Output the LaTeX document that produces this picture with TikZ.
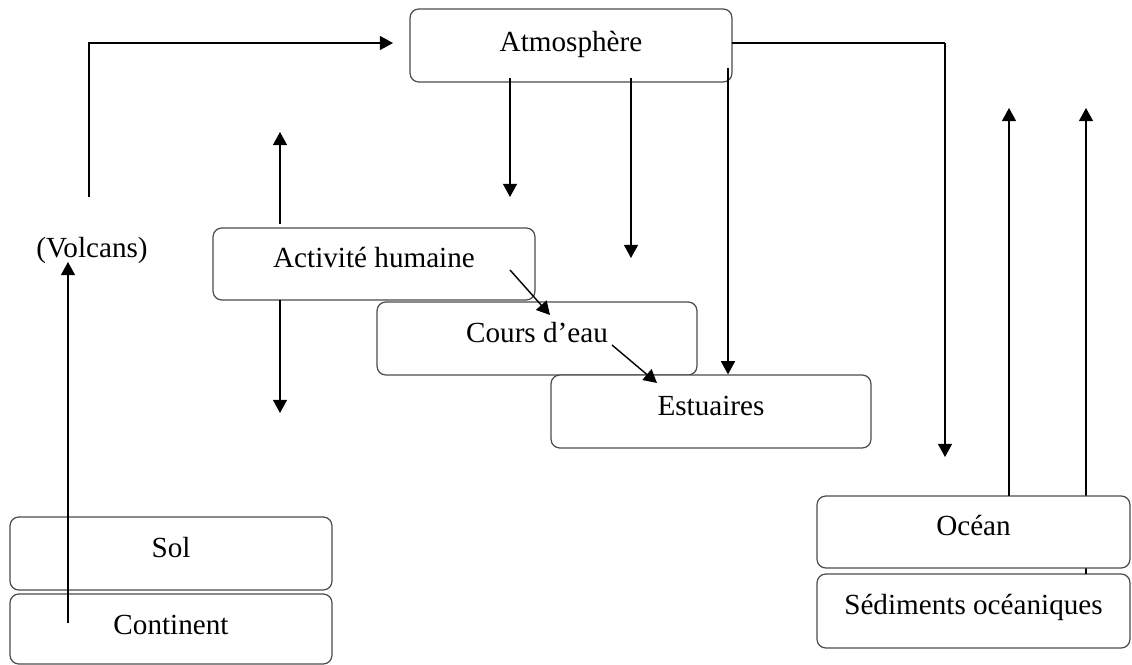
\documentclass[tikz,border=0pt]{standalone}
\usepackage{fontspec}
\setmainfont{Liberation Serif}
\usetikzlibrary{arrows.meta, calc}

\begin{document}
\begin{tikzpicture}[x=0.02cm, y=-0.02cm, font=\fontsize{16.6}{20}\selectfont,
  box/.style={draw=black!70, line width=0.7pt, rounded corners=5pt, fill=white, inner sep=0pt, minimum height=1.46cm, text height=12pt, text depth=8pt},
  arr/.style={-{Triangle[length=7.5pt,width=8pt]}, line width=0.8pt}]

\useasboundingbox (0,0) rectangle (1132,665);

\node[box, minimum width=6.44cm, text depth=5pt] (atmo) at (571,45.5) {Atmosphère};
\node[box, minimum width=6.44cm, minimum height=1.44cm] (act) at (374,264) {Activité humaine};
\node[box, minimum width=6.4cm] (cours) at (537,338.5) {Cours d’eau};
\node[box, minimum width=6.4cm] (estu) at (711,411.5) {Estuaires};
\node[box, minimum width=6.44cm] (sol) at (171,553.5) {Sol};
\node[box, minimum width=6.44cm, minimum height=1.4cm, text depth=6pt] (cont) at (171,629) {Continent};
\node[box, minimum width=6.26cm, minimum height=1.48cm] (sedi) at (973.5,611) {Sédiments océaniques};
\node[inner sep=0pt] (volc) at (92,250) {(Volcans)};

\coordinate (s2) at (1086,574);
\draw[arr] (s2) -- ++(0,-466);
\node[box, minimum width=6.26cm, minimum height=1.44cm] (ocean) at (973.5,532) {Océan};

\coordinate (c1) at (68,623);
\coordinate (v0) at (68,262);
\coordinate (v1) at (89,197);
\coordinate (a1) at (393,43);
\coordinate (a2) at (732,43);
\coordinate (a3) at (945,43);
\coordinate (o1) at (945,457);
\draw[arr] (c1) -- (v0);
\draw[arr] (v1) |- (a1);
\draw[line width=0.8pt] (a2) -- (a3);
\draw[arr] (a3) -- (o1);

\coordinate (e1) at (728,68);
\draw[arr] (510,78) -- (510,197);
\draw[arr] (631,78) -- (631,258);
\draw[arr] (e1) -- (e1 |- estu.north);

\coordinate (h1) at (280,224);
\coordinate (h2) at (280,300);
\draw[arr] (h1) -- (280,132);
\draw[arr] (h2) -- (280,413);

\draw[arr] (510,270) -- (550,315);
\draw[arr] (612,345) -- (657,383);

\coordinate (o2) at (1009,496);
\draw[arr] (o2) -- (1009,108);
\end{tikzpicture}
\end{document}
